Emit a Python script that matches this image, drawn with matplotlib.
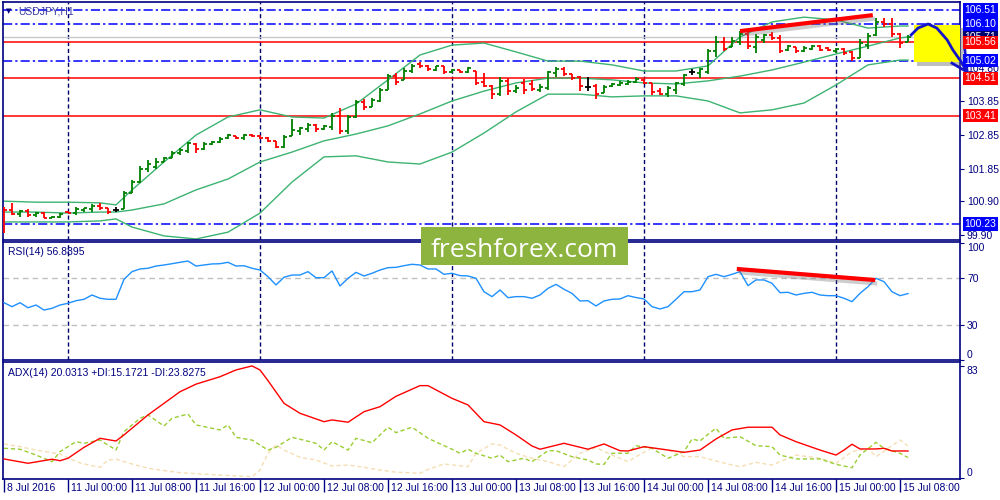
import matplotlib
matplotlib.use('Agg')
import matplotlib.pyplot as plt
import matplotlib.patches as mpatches
import matplotlib.patheffects as pe
from matplotlib.transforms import blended_transform_factory, ScaledTranslation
import numpy as np

plt.rcParams['font.family'] = ['Liberation Sans', 'DejaVu Sans']

# ---- USDJPY H1 bars (8 Jul 16:00 .. 15 Jul 09:00) ----
opens = [100.70, 100.64, 100.52, 100.61, 100.49, 100.55, 100.41, 100.44, 100.58, 100.55,
         100.64, 100.67, 100.76, 100.70, 100.64, 100.67, 101.14, 101.46, 101.84, 101.90,
         102.05, 102.17, 102.31, 102.37, 102.58, 102.43, 102.58, 102.64, 102.75, 102.81,
         102.75, 102.84, 102.81, 102.75, 102.67, 102.49, 102.81, 102.96, 103.02, 103.13,
         103.02, 103.08, 103.40, 102.96, 103.37, 103.81, 103.66, 103.84, 104.16, 104.57,
         104.46, 104.72, 104.93, 104.87, 104.75, 104.87, 104.69, 104.75, 104.69, 104.72,
         104.40, 104.28, 104.04, 104.43, 104.13, 104.37, 104.34, 104.16, 104.22, 104.66,
         104.78, 104.63, 104.54, 104.25, 104.28, 104.07, 104.28, 104.31, 104.34, 104.40,
         104.46, 104.37, 104.13, 104.04, 104.16, 104.34, 104.69, 104.66, 104.69, 105.31,
         105.57, 105.42, 105.57, 105.81, 105.42, 105.63, 105.78, 105.69, 105.34, 105.42,
         105.31, 105.37, 105.45, 105.39, 105.31, 105.37, 105.28, 105.10, 105.48, 105.78,
         106.16, 106.10, 105.81, 105.57]
highs = [100.73, 100.85, 100.64, 100.67, 100.58, 100.58, 100.46, 100.55, 100.61, 100.73,
         100.70, 100.82, 100.85, 100.70, 100.73, 101.20, 101.52, 101.93, 102.11, 102.17,
         102.20, 102.37, 102.46, 102.64, 102.61, 102.64, 102.67, 102.78, 102.87, 102.81,
         102.87, 102.87, 102.84, 102.78, 102.67, 102.84, 103.31, 103.08, 103.19, 103.16,
         103.13, 103.49, 103.63, 103.43, 103.87, 103.90, 103.93, 104.22, 104.63, 104.66,
         104.81, 104.93, 104.98, 104.90, 104.87, 104.87, 104.78, 104.75, 104.84, 104.72,
         104.66, 104.31, 104.54, 104.51, 104.31, 104.49, 104.46, 104.34, 104.72, 104.84,
         104.84, 104.63, 104.57, 104.54, 104.34, 104.31, 104.37, 104.43, 104.46, 104.54,
         104.49, 104.37, 104.22, 104.28, 104.40, 104.63, 104.78, 104.81, 105.37, 105.75,
         105.72, 105.72, 105.89, 105.89, 105.81, 105.81, 105.86, 105.78, 105.48, 105.42,
         105.45, 105.48, 105.48, 105.42, 105.39, 105.39, 105.31, 105.66, 105.83, 106.28,
         106.28, 106.28, 105.83, 105.78]
lows = [99.96, 100.49, 100.43, 100.43, 100.43, 100.41, 100.41, 100.41, 100.55, 100.49,
        100.58, 100.58, 100.64, 100.52, 100.58, 100.67, 101.14, 101.43, 101.75, 101.84,
        102.05, 102.17, 102.25, 102.31, 102.31, 102.40, 102.55, 102.61, 102.72, 102.72,
        102.69, 102.78, 102.72, 102.64, 102.46, 102.46, 102.81, 102.84, 102.93, 102.93,
        102.99, 102.99, 102.87, 102.87, 103.34, 103.58, 103.66, 103.81, 104.16, 104.31,
        104.46, 104.66, 104.81, 104.72, 104.72, 104.63, 104.66, 104.66, 104.66, 104.31,
        104.25, 103.90, 103.99, 104.02, 104.07, 104.04, 104.13, 104.10, 104.16, 104.54,
        104.57, 104.46, 104.13, 104.13, 103.90, 104.07, 104.25, 104.28, 104.31, 104.37,
        104.34, 104.02, 104.02, 103.96, 104.04, 104.28, 104.60, 104.51, 104.63, 105.13,
        105.31, 105.42, 105.48, 105.37, 105.25, 105.54, 105.63, 105.25, 105.31, 105.25,
        105.28, 105.34, 105.31, 105.31, 105.25, 105.19, 105.01, 105.10, 105.37, 105.75,
        106.01, 105.72, 105.39, 105.57]
closes = [100.64, 100.52, 100.61, 100.49, 100.55, 100.41, 100.44, 100.52, 100.55, 100.67,
          100.70, 100.76, 100.70, 100.58, 100.64, 101.14, 101.46, 101.84, 101.99, 102.05,
          102.17, 102.31, 102.40, 102.61, 102.43, 102.58, 102.64, 102.72, 102.84, 102.75,
          102.84, 102.81, 102.75, 102.67, 102.49, 102.78, 102.99, 103.05, 103.13, 103.02,
          103.10, 103.40, 102.96, 103.37, 103.81, 103.66, 103.87, 104.16, 104.57, 104.40,
          104.72, 104.87, 104.87, 104.78, 104.87, 104.69, 104.75, 104.69, 104.81, 104.37,
          104.28, 104.04, 104.43, 104.13, 104.22, 104.16, 104.19, 104.25, 104.69, 104.78,
          104.63, 104.51, 104.28, 104.25, 104.04, 104.25, 104.34, 104.37, 104.40, 104.49,
          104.37, 104.10, 104.04, 104.22, 104.37, 104.60, 104.69, 104.78, 105.31, 105.57,
          105.37, 105.60, 105.81, 105.45, 105.72, 105.78, 105.69, 105.31, 105.45, 105.31,
          105.39, 105.45, 105.34, 105.34, 105.37, 105.25, 105.10, 105.54, 105.75, 106.16,
          106.10, 105.81, 105.54, 105.71]

# Bollinger bands
band_idx = [0, 4, 8, 12, 14, 16, 20, 24, 28, 32, 36, 40, 44, 48, 52, 56, 60, 64, 68, 72,
            76, 80, 84, 88, 92, 96, 100, 104, 108, 112, 113]
bb_upper = [100.90, 100.87, 100.87, 100.85, 100.79, 101.23, 102.05, 102.84, 103.37, 103.58,
            103.37, 103.34, 103.75, 104.46, 105.19, 105.48, 105.54, 105.28, 105.01, 105.01,
            104.90, 104.72, 104.72, 104.87, 105.72, 106.16, 106.30, 106.22, 105.98, 106.04, 106.04]
bb_middle = [100.58, 100.58, 100.55, 100.58, 100.58, 100.64, 100.82, 101.23, 101.55, 102.05,
             102.34, 102.67, 102.87, 103.11, 103.46, 103.84, 104.13, 104.37, 104.51, 104.51,
             104.46, 104.37, 104.34, 104.43, 104.57, 104.75, 104.98, 105.22, 105.45, 105.69, 105.72]
bb_lower = [100.29, 100.29, 100.29, 100.32, 100.38, 100.14, 99.88, 99.79, 99.99, 100.55,
            101.46, 102.20, 102.23, 102.05, 101.99, 102.34, 102.90, 103.52, 104.04, 104.04,
            103.96, 103.99, 103.99, 103.84, 103.49, 103.58, 103.78, 104.31, 104.90, 105.04, 105.04]

# RSI(14), one value per bar
rsi = [49.1, 45.7, 49.1, 44.8, 47.1, 42.8, 44.3, 47.1, 48.6, 50.8,
       52.0, 55.7, 52.9, 52.0, 52.0, 69.1, 75.7, 78.0, 78.6, 80.5,
       81.4, 82.5, 83.7, 84.8, 80.5, 81.4, 82.3, 82.5, 83.7, 80.5,
       80.8, 78.6, 77.1, 71.4, 64.3, 70.9, 72.8, 72.8, 75.7, 70.5,
       70.5, 76.3, 63.4, 70.0, 75.1, 72.0, 74.3, 77.1, 79.1, 79.4,
       80.8, 82.0, 81.4, 78.0, 78.0, 73.4, 74.3, 72.3, 72.0, 70.0,
       58.5, 54.3, 60.0, 53.4, 54.3, 54.3, 52.9, 55.7, 61.4, 64.8,
       60.6, 57.1, 50.6, 50.8, 46.3, 50.6, 52.0, 52.3, 55.1, 53.5,
       52.3, 45.7, 43.7, 45.7, 52.0, 58.5, 58.5, 60.0, 71.4, 73.4,
       71.4, 73.4, 75.7, 63.7, 68.6, 68.6, 65.7, 57.7, 58.0, 55.7,
       57.1, 58.0, 55.7, 55.1, 55.1, 52.9, 50.0, 57.1, 62.8, 70.0,
       67.1, 58.5, 55.1, 56.9]

# ADX(14) and DI lines
adx_idx = [0, 3, 6, 7, 8, 10, 12, 14, 15, 18, 20, 22, 24, 27, 29, 31, 32, 33, 35, 37,
           40, 41, 43, 45, 47, 49, 52, 53, 56, 58, 60, 62, 64, 66, 67, 70, 73, 75, 77, 78,
           80, 83, 85, 87, 89, 91, 93, 96, 97, 99, 102, 104, 105, 106, 107, 109, 110, 111, 113]
adx_val = [14.1, 10.9, 13.9, 12.8, 14.6, 22.7, 29.4, 27.4, 31.9, 46.7, 55.3, 63.9, 69.5, 75.0,
           80.0, 83.0, 80.0, 72.1, 55.3, 47.9, 41.7, 43.0, 41.3, 49.1, 52.8, 60.5, 68.4, 68.4,
           59.0, 54.1, 41.7, 39.3, 31.9, 23.7, 21.3, 25.7, 21.3, 25.2, 20.2, 20.0, 23.2, 20.7,
           19.0, 20.7, 28.9, 35.6, 37.6, 37.6, 31.9, 26.9, 20.7, 17.0, 20.7, 25.0, 21.5, 21.5,
           22.0, 20.0, 20.0]
pdi_idx = [0, 2, 4, 6, 7, 9, 10, 12, 14, 15, 17, 18, 20, 21, 23, 24, 27, 28, 29, 31, 33, 34,
           36, 37, 39, 40, 41, 43, 44, 46, 48, 49, 51, 53, 56, 57, 58, 59, 61, 62, 63, 65, 66,
           68, 69, 71, 73, 74, 75, 76, 78, 79, 81, 83, 85, 86, 87, 88, 89, 90, 92, 94, 96, 97,
           99, 102, 104, 106, 107, 109, 110, 112, 113]
pdi_val = [22.0, 21.3, 17.0, 12.1, 19.5, 26.9, 25.7, 28.1, 20.7, 34.3, 44.2, 46.7, 38.5, 44.2,
           47.4, 39.3, 35.6, 39.3, 30.1, 28.1, 20.7, 22.7, 30.1, 28.7, 25.7, 20.7, 26.9, 20.7,
           29.4, 26.1, 37.6, 33.6, 37.6, 29.4, 21.3, 18.3, 21.3, 18.3, 14.6, 17.0, 12.1, 14.6,
           12.1, 20.2, 20.2, 15.8, 13.3, 10.4, 10.1, 18.3, 18.3, 23.9, 22.0, 14.6, 19.5, 28.9,
           27.4, 32.4, 36.8, 29.4, 30.6, 23.9, 23.2, 17.0, 14.1, 14.1, 10.1, 7.6, 17.0, 26.4,
           22.0, 18.3, 15.2]
mdi_idx = [0, 2, 4, 7, 9, 10, 12, 13, 14, 16, 18, 22, 27, 29, 31, 32, 33, 34, 35, 37, 39, 41,
           43, 45, 47, 49, 52, 53, 55, 58, 59, 61, 62, 64, 66, 68, 70, 72, 74, 76, 78, 79, 81,
           83, 85, 87, 89, 91, 92, 94, 96, 97, 99, 102, 104, 106, 108, 109, 111, 112, 113]
mdi_val = [25.2, 23.2, 20.7, 17.8, 12.1, 10.4, 7.9, 13.3, 13.9, 10.4, 7.2, 3.9, 2.2, 1.5, 1.0,
           5.9, 18.3, 24.4, 20.7, 15.3, 13.3, 8.9, 9.6, 7.9, 5.9, 4.3, 3.5, 6.4, 10.4, 8.4,
           18.3, 25.2, 24.4, 18.3, 14.6, 12.1, 8.4, 18.3, 22.5, 17.0, 12.1, 15.8, 22.4, 20.7,
           15.8, 15.8, 12.6, 9.6, 8.4, 11.6, 9.6, 12.1, 17.0, 14.6, 10.9, 19.5, 22.0, 15.8,
           23.9, 28.1, 23.8]

# horizontal levels
blue_levels = [106.51, 106.10, 105.02, 100.23]
red_levels = [105.56, 104.51, 103.41]
bid_price = 105.71
price_ticks = [104.80, 103.85, 102.85, 101.85, 100.90, 99.90]

# time axis
day_idx = [8, 32, 56, 80, 104]
label_idx = [0, 8, 16, 24, 32, 40, 48, 56, 64, 72, 80, 88, 96, 104, 112]
time_labels = ['8 Jul 2016', '11 Jul 00:00', '11 Jul 08:00', '11 Jul 16:00', '12 Jul 00:00',
               '12 Jul 08:00', '12 Jul 16:00', '13 Jul 00:00', '13 Jul 08:00', '13 Jul 16:00',
               '14 Jul 00:00', '14 Jul 08:00', '14 Jul 16:00', '15 Jul 00:00', '15 Jul 08:00']

# hand drawn annotations
trend_price_idx = [92, 108.6]
trend_price_val = [105.89, 106.36]
trend_rsi_idx = [91.6, 108.9]
trend_rsi_val = [78.0, 68.5]
zone_idx = [113.75, 119.5]
zone_price = [104.98, 106.07]
arrow_idx = [113.4, 114.25, 115.5, 116.6, 117.9, 118.6, 119.5, 120.4]
arrow_price = [105.78, 105.98, 106.10, 105.98, 105.63, 105.34, 105.04, 104.69]
head_idx = [120.1, 120.4, 118.5]
head_price = [105.34, 104.69, 104.95]

NAVY = '#000080'
GRID_KW = dict(color='#00006A', linestyle=(0, (3, 2)), linewidth=1.0)
SHADOW = [pe.SimpleLineShadow(offset=(1.5, -2.5), shadow_color='#707070', alpha=0.35), pe.Normal()]

fig = plt.figure(figsize=(10, 5), dpi=100)
ax_p = fig.add_axes([0.003, 0.52, 0.957, 0.476])
ax_r = fig.add_axes([0.003, 0.28, 0.957, 0.236])
ax_a = fig.add_axes([0.003, 0.042, 0.957, 0.234])

x = np.arange(len(closes))
for ax in (ax_p, ax_r, ax_a):
    ax.set_xlim(-0.125, 119.5)
    for s in ax.spines.values():
        s.set_color(NAVY)
        s.set_linewidth(1.2)
    ax.set_xticks(day_idx, minor=True)
    ax.grid(which='minor', axis='x', **GRID_KW)
    ax.tick_params(which='minor', length=0)
    ax.yaxis.tick_right()
    ax.tick_params(axis='y', colors=NAVY, labelsize=7.5, length=3, pad=2)
    ax.set_axisbelow(True)

# ---- price panel ----
ax_p.set_ylim(99.76, 106.745)
ax_p.set_xticks([])
for lv in blue_levels:
    ax_p.axhline(lv, color='#0000FF', lw=1.1, linestyle=(0, (6, 2, 1.5, 2)), zorder=1)
for lv in red_levels:
    ax_p.axhline(lv, color='#FF0000', lw=1.1, zorder=1)
ax_p.axhline(bid_price, color='#C8C8C8', lw=1, zorder=1)

for band in (bb_upper, bb_middle, bb_lower):
    ax_p.plot(band_idx, band, color='#3CB371', lw=1, zorder=2)

o = np.array(opens); h = np.array(highs); l = np.array(lows); c = np.array(closes)
cols = np.where(c > o, '#008000', np.where(c < o, '#FF0000', '#000000'))
ax_p.vlines(x, l, h, colors=cols, lw=1.3, zorder=3)
ax_p.hlines(o, x - 0.38, x, colors=cols, lw=1.3, zorder=3)
ax_p.hlines(c, x, x + 0.38, colors=cols, lw=1.3, zorder=3)

ax_p.set_yticks(price_ticks)
ax_p.set_yticklabels([f'{v:.2f}' for v in price_ticks])

# annotations on price panel
ax_p.plot(trend_price_idx, trend_price_val, color='#FF0000', lw=3, solid_capstyle='butt', zorder=6,
          path_effects=SHADOW)
zone = mpatches.Rectangle((zone_idx[0], zone_price[0]), zone_idx[1] - zone_idx[0],
                          zone_price[1] - zone_price[0], facecolor='#FFFF00', edgecolor='none',
                          zorder=6, clip_on=False,
                          path_effects=[pe.SimplePatchShadow(offset=(2.5, -2.5), shadow_rgbFace='#707070', alpha=0.45),
                                        pe.Normal()])
ax_p.add_patch(zone)
ax_p.plot(arrow_idx, arrow_price, color='#1515C8', lw=2, zorder=7, clip_on=False)
ax_p.plot(head_idx, head_price, color='#1515C8', lw=2, zorder=7, clip_on=False)

# price labels in boxes on the right scale
lbl_tr = blended_transform_factory(ax_p.transAxes, ax_p.transData)
box_labels = [(106.51, '#0000FF'), (106.10, '#0000FF'), (105.71, '#00006E'), (105.56, '#FF0000'),
              (105.02, '#0000FF'), (104.51, '#FF0000'), (103.41, '#FF0000'), (100.23, '#0000FF')]
for val, col in box_labels:
    ax_p.text(1.0045, val, f'{val:.2f}', transform=lbl_tr, ha='left', va='center', fontsize=7.5,
              color='white', clip_on=False, zorder=8,
              bbox=dict(boxstyle='square,pad=0.15', facecolor=col, edgecolor='none'))

# ---- RSI panel ----
ax_r.set_ylim(0, 101.1)
ax_r.set_xticks([])
for lv in (70, 30):
    ax_r.axhline(lv, color='#C0C0C0', lw=1, linestyle=(0, (4, 3)), zorder=1)
ax_r.plot(x, rsi, color='#1E90FF', lw=1, zorder=3)
ax_r.plot(trend_rsi_idx, trend_rsi_val, color='#FF0000', lw=3, solid_capstyle='butt', zorder=6,
          path_effects=SHADOW)
ax_r.set_yticks([100, 70, 30, 0])
ax_r.set_yticklabels(['100', '70', '30', '0'])
rl = ax_r.get_yticklabels()
rl[0].set_va('top')
rl[3].set_va('bottom')

# ---- ADX panel ----
ax_a.set_ylim(-0.74, 85.9)
ax_a.plot(mdi_idx, mdi_val, color='#F5DEB3', lw=1, linestyle=(0, (3, 2)), zorder=2)
ax_a.plot(pdi_idx, pdi_val, color='#9ACD32', lw=1, linestyle=(0, (3, 2)), zorder=3)
ax_a.plot(adx_idx, adx_val, color='#FF0000', lw=1, zorder=4)
ax_a.set_yticks([83, 0])
ax_a.set_yticklabels(['83', '0'])
al = ax_a.get_yticklabels()
al[0].set_va('top')
al[1].set_va('bottom')

ax_a.set_xticks(label_idx)
ax_a.set_xticklabels([''] * len(label_idx))
ax_a.tick_params(axis='x', which='major', colors=NAVY, length=9, width=1, direction='out')
xl_tr = blended_transform_factory(ax_a.transData, ax_a.transAxes) + \
    ScaledTranslation(3 / 100, 0, fig.dpi_scale_trans)
for i, t in zip(label_idx, time_labels):
    ax_a.text(i, -0.077, t, transform=xl_tr, ha='left', va='center', fontsize=7.5, color=NAVY,
              clip_on=False)

# window captions
fig.text(0.006, 1 - 11 / 500, '\u25bc', fontsize=5, color=NAVY, va='center', family='DejaVu Sans')
fig.text(0.018, 1 - 11 / 500, 'USDJPY,H1', fontsize=7.5, color='#3a3aa0', va='center')
fig.text(0.008, 1 - 252 / 500, 'RSI(14) 56.8895', fontsize=7.5, color=NAVY, va='center')
fig.text(0.008, 1 - 373 / 500, 'ADX(14) 20.0313 +DI:15.1721 -DI:23.8275', fontsize=7.5,
         color=NAVY, va='center')

# watermark
wm = mpatches.Rectangle((0.421, 0.47), 0.207, 0.076, transform=fig.transFigure,
                        facecolor='#8DB43E', edgecolor='none', zorder=10)
fig.patches.append(wm)
fig.text(0.5245, 1 - 257 / 500, 'freshforex.com', ha='center', va='baseline', fontsize=19,
         color='white', family='Open Sans', zorder=11)

fig.savefig('out.png', dpi=100, facecolor='white')
